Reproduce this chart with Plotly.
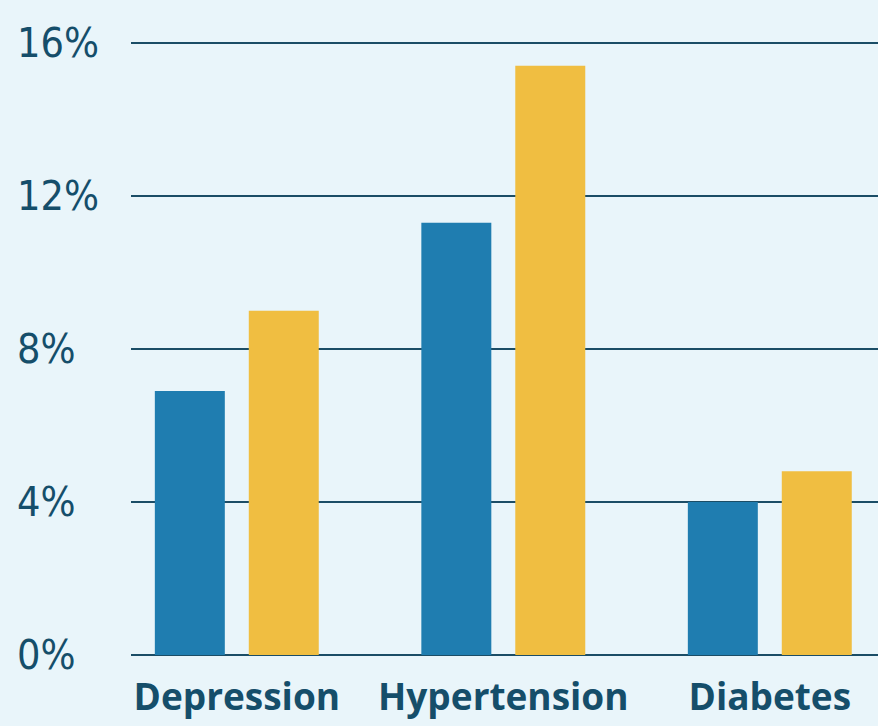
import plotly.graph_objects as go

categories = ["Depression", "Hypertension", "Diabetes"]
series_a = [6.9, 11.3, 4.0]
series_b = [9.0, 15.4, 4.8]
ytick_vals = [0, 4, 8, 12, 16]
ytick_labels = ["0%", "4%", "8%", "12%", "16%"]

TEXT = "#154e6a"
GRID = "#1b4d66"

fig = go.Figure()
fig.add_trace(go.Bar(x=categories, y=series_a, marker=dict(color="#1f7db0", line=dict(width=0)), showlegend=False))
fig.add_trace(go.Bar(x=categories, y=series_b, marker=dict(color="#f0be41", line=dict(width=0)), showlegend=False))

L, R, T, B = 131, 0, 41, 71
W, H = 878, 726
for v, lab in zip(ytick_vals, ytick_labels):
    fig.add_annotation(x=-(L - 15) / (W - L - R), xref="paper", y=v, yref="y",
                       text=lab, showarrow=False, xanchor="left", yanchor="middle",
                       font=dict(family="DejaVu Sans Condensed, DejaVu Sans", size=41, color=TEXT))

fig.update_layout(
    width=W, height=H,
    margin=dict(l=L, r=R, t=T, b=B),
    paper_bgcolor="#e9f5fa", plot_bgcolor="rgba(0,0,0,0)",
    barmode="group", bargap=0.295, bargroupgap=0.255,
    xaxis=dict(range=[-0.397, 2.406], showgrid=False, zeroline=False, showline=False,
               ticks="", tickfont=dict(family="Open Sans", size=37, color=TEXT, weight=700),
               ticklabelstandoff=17),
    yaxis=dict(range=[0, 16.05], tickvals=ytick_vals, showticklabels=False, showgrid=True,
               gridcolor=GRID, gridwidth=2, zeroline=True, zerolinecolor=GRID, zerolinewidth=2,
               layer="below traces", fixedrange=True),
)
fig.write_html("out.html")
